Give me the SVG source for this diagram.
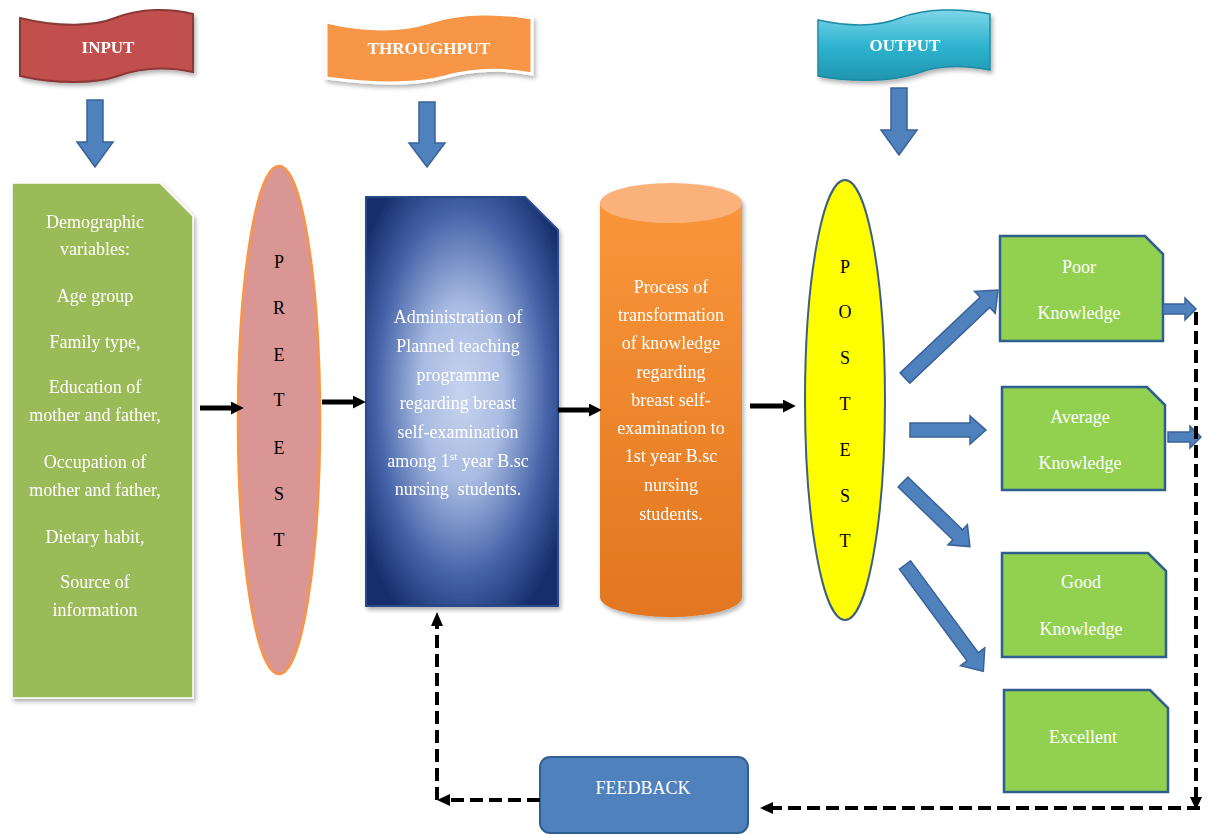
<svg xmlns="http://www.w3.org/2000/svg" width="1208" height="835" viewBox="0 0 1208 835">
<style>
.t{font-family:"Liberation Serif","Times New Roman",serif;fill:#fff;text-anchor:middle;font-size:18px}
.b{font-family:"Liberation Serif","Times New Roman",serif;fill:#fff;text-anchor:middle;font-size:17px;font-weight:bold}
.k{font-family:"Liberation Serif","Times New Roman",serif;fill:#000;text-anchor:middle;font-size:18px}
.ba{fill:#4f81bd;stroke:#3a6299;stroke-width:1.5}
.res{fill:#92d050;stroke:#2f5f8f;stroke-width:2.5}
.dash{fill:none;stroke:#000;stroke-width:4;stroke-dasharray:13 6}
</style>
<defs>
<filter id="sh" x="-10%" y="-10%" width="130%" height="130%"><feDropShadow dx="2" dy="3" stdDeviation="2" flood-color="#000" flood-opacity="0.3"/></filter>
<radialGradient id="navy" cx="50%" cy="48%" r="62%"><stop offset="0" stop-color="#c8d3ee"/><stop offset="0.35" stop-color="#a9bbe2"/><stop offset="0.72" stop-color="#4563a8"/><stop offset="1" stop-color="#172f6c"/></radialGradient>
<linearGradient id="cyl" x1="0" y1="0" x2="0" y2="1"><stop offset="0" stop-color="#f9963a"/><stop offset="1" stop-color="#e27620"/></linearGradient>
<linearGradient id="cyan" x1="0" y1="0" x2="0" y2="1"><stop offset="0" stop-color="#7fd6e8"/><stop offset="0.5" stop-color="#2fb4d0"/><stop offset="1" stop-color="#1f95b0"/></linearGradient>
<marker id="ah" viewBox="0 0 10 10" refX="4" refY="5" markerWidth="2.6" markerHeight="2.6" orient="auto"><path d="M0,0 L10,5 L0,10 Z" fill="#000"/></marker>
</defs>

<g id="banner-input" filter="url(#sh)">
<path d="M20,18 C60,28 95,26 115,18 C140,8 170,8 193,14 L193,72 C165,66 140,68 118,76 C95,84 55,84 20,76 Z" fill="#c0504d" stroke="#8c3836" stroke-width="2"/>
<text class="b" x="108" y="53">INPUT</text>
</g>
<g id="banner-throughput" filter="url(#sh)">
<path d="M326,22 C370,32 405,30 430,22 C460,12 500,12 532,18 L532,74 C500,68 470,70 445,77 C415,85 370,84 326,78 Z" fill="#f79646" stroke="#fff" stroke-width="3"/>
<text class="b" x="429" y="54">THROUGHPUT</text>
</g>
<g id="banner-output" filter="url(#sh)">
<path d="M818,20 C855,28 880,26 900,18 C925,8 960,8 990,14 L990,70 C960,64 935,66 915,74 C890,82 850,82 818,76 Z" fill="url(#cyan)" stroke="#1f8aa3" stroke-width="1.5"/>
<text class="b" x="905" y="51">OUTPUT</text>
</g>

<g id="down-arrows">
<path class="ba" d="M87,100 L103,100 L103,142 L113,142 L95,167 L77,142 L87,142 Z"/>
<path class="ba" d="M419,102 L435,102 L435,143 L445,143 L427,167 L409,143 L419,143 Z"/>
<path class="ba" d="M891,88 L907,88 L907,130 L917,130 L899,155 L881,130 L891,130 Z"/>
</g>

<g id="node-demographic" filter="url(#sh)">
<path d="M12,183 L160,183 L193,216 L193,698 L12,698 Z" fill="#9bbb59" stroke="#fff" stroke-width="1.5"/>
<text class="t" x="95" y="228">Demographic</text>
<text class="t" x="95" y="255">variables:</text>
<text class="t" x="95" y="302">Age group</text>
<text class="t" x="95" y="348">Family type,</text>
<text class="t" x="95" y="393">Education of</text>
<text class="t" x="95" y="421">mother and father,</text>
<text class="t" x="95" y="468">Occupation of</text>
<text class="t" x="95" y="496">mother and father,</text>
<text class="t" x="95" y="543">Dietary habit,</text>
<text class="t" x="95" y="588">Source of</text>
<text class="t" x="95" y="616">information</text>
</g>

<g id="node-pretest">
<ellipse cx="279" cy="420" rx="41" ry="254" fill="#d99694" stroke="#f79646" stroke-width="2.5"/>
<text class="k" x="279" y="268">P</text>
<text class="k" x="279" y="314">R</text>
<text class="k" x="279" y="361">E</text>
<text class="k" x="279" y="406">T</text>
<text class="k" x="279" y="454">E</text>
<text class="k" x="279" y="500">S</text>
<text class="k" x="279" y="546">T</text>
</g>

<g id="node-administration" filter="url(#sh)">
<path d="M366,197 L525,197 L558,230 L558,606 L366,606 Z" fill="url(#navy)" stroke="#2a4a8a" stroke-width="2"/>
<text class="t" x="458" y="323">Administration of</text>
<text class="t" x="458" y="352">Planned teaching</text>
<text class="t" x="458" y="381">programme</text>
<text class="t" x="458" y="409">regarding breast</text>
<text class="t" x="458" y="438">self-examination</text>
<text class="t" x="458" y="467">among 1<tspan font-size="11" dy="-7">st</tspan><tspan dy="7"> year B.sc</tspan></text>
<text class="t" x="458" y="495" xml:space="preserve">nursing  students.</text>
</g>

<g id="node-process" filter="url(#sh)">
<path d="M600,203 L742,203 L742,597 A71,20 0 0 1 600,597 Z" fill="url(#cyl)"/>
<ellipse cx="671" cy="203" rx="71" ry="20" fill="#fab27a"/>
<text class="t" x="671" y="293">Process of</text>
<text class="t" x="671" y="321">transformation</text>
<text class="t" x="671" y="349">of knowledge</text>
<text class="t" x="671" y="378">regarding</text>
<text class="t" x="671" y="406">breast self-</text>
<text class="t" x="671" y="434">examination to</text>
<text class="t" x="671" y="462">1st year B.sc</text>
<text class="t" x="671" y="491">nursing</text>
<text class="t" x="671" y="520">students.</text>
</g>

<g id="node-posttest">
<ellipse cx="845" cy="400" rx="40" ry="220" fill="#ffff00" stroke="#3f5f7f" stroke-width="2"/>
<text class="k" x="845" y="273">P</text>
<text class="k" x="845" y="318">O</text>
<text class="k" x="845" y="364">S</text>
<text class="k" x="845" y="410">T</text>
<text class="k" x="845" y="456">E</text>
<text class="k" x="845" y="502">S</text>
<text class="k" x="845" y="547">T</text>
</g>

<g id="node-poor">
<path class="res" d="M1000,236 L1145,236 L1163,254 L1163,341 L1000,341 Z"/>
<text class="t" x="1079" y="273">Poor</text>
<text class="t" x="1079" y="319">Knowledge</text>
</g>
<g id="node-average">
<path class="res" d="M1002,387 L1147,387 L1165,405 L1165,490 L1002,490 Z"/>
<text class="t" x="1080" y="423">Average</text>
<text class="t" x="1080" y="469">Knowledge</text>
</g>
<g id="node-good">
<path class="res" d="M1002,553 L1148,553 L1166,571 L1166,657 L1002,657 Z"/>
<text class="t" x="1081" y="588">Good</text>
<text class="t" x="1081" y="635">Knowledge</text>
</g>
<g id="node-excellent">
<path class="res" d="M1004,690 L1150,690 L1168,708 L1168,792 L1004,792 Z"/>
<text class="t" x="1083" y="743">Excellent</text>
</g>

<g id="node-feedback">
<rect x="540" y="757" width="208" height="76" rx="10" fill="#4f81bd" stroke="#2f5f8f" stroke-width="2"/>
<text class="t" x="643" y="794">FEEDBACK</text>
</g>

<g id="connectors">
<line x1="200" y1="408" x2="236" y2="408" stroke="#000" stroke-width="5" marker-end="url(#ah)"/>
<line x1="322" y1="402" x2="358" y2="402" stroke="#000" stroke-width="5" marker-end="url(#ah)"/>
<line x1="558" y1="410" x2="594" y2="410" stroke="#000" stroke-width="5" marker-end="url(#ah)"/>
<line x1="750" y1="406" x2="788" y2="406" stroke="#000" stroke-width="5" marker-end="url(#ah)"/>

<path class="ba" transform="translate(905,378) rotate(-43.4)" d="M0,-7 L110,-7 L110,-15 L128,0 L110,15 L110,7 L0,7 Z"/>
<path class="ba" transform="translate(910,430)" d="M0,-7 L60,-7 L60,-14 L76,0 L60,14 L60,7 L0,7 Z"/>
<path class="ba" transform="translate(903,482) rotate(44)" d="M0,-7 L76,-7 L76,-14 L93,0 L76,14 L76,7 L0,7 Z"/>
<path class="ba" transform="translate(905,565) rotate(53.6)" d="M0,-7 L114,-7 L114,-15 L132,0 L114,15 L114,7 L0,7 Z"/>
<path class="ba" transform="translate(1163,309)" d="M0,-5 L22,-5 L22,-11 L33,0 L22,11 L22,5 L0,5 Z"/>
<path class="ba" transform="translate(1168,437)" d="M0,-5 L22,-5 L22,-11 L33,0 L22,11 L22,5 L0,5 Z"/>

<path class="dash" d="M1196,312 L1196,798"/>
<path d="M1190,797 L1196,810 L1202,797 Z" fill="#000"/>
<path class="dash" d="M1200,808 L772,808"/>
<path d="M773,802 L760,808 L773,814 Z" fill="#000"/>
<path class="dash" d="M540,800 L448,800"/>
<path d="M450,794 L437,800 L450,806 Z" fill="#000"/>
<path class="dash" d="M437,800 L437,625"/>
<path d="M431,626 L437,612 L443,626 Z" fill="#000"/>
</g>
</svg>
